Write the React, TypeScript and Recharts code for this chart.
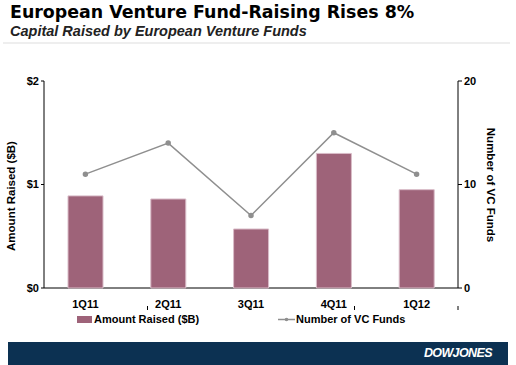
import React from "react";
import {
  ComposedChart,
  Bar,
  Line,
  XAxis,
  YAxis,
} from "recharts";

const quarters = ["1Q11", "2Q11", "3Q11", "4Q11", "1Q12"];
const amountRaised = [0.89, 0.86, 0.57, 1.3, 0.95];
const vcFunds = [11, 14, 7, 15, 11];
const amountTicks = [0, 1, 2];
const fundTicks = [0, 10, 20];
const boundaryTicks = [1, 2, 3, 4];

const data = quarters.map((q, i) => ({
  quarter: q,
  amount: amountRaised[i],
  funds: vcFunds[i],
}));

const FONT = "'Liberation Sans', Arial, sans-serif";
const TITLE_FONT = "'DejaVu Sans', Verdana, sans-serif";
const BAR = "#9e6379";
const LINE = "#8f8f8f";

const NoLabel = () => <g />;

export default function App() {
  return (
    <div
      style={{
        position: "absolute",
        left: 0,
        top: 0,
        width: 516,
        height: 365,
        background: "#fff",
        fontFamily: FONT,
        overflow: "hidden",
      }}
    >
      <div
        style={{
          position: "absolute",
          left: 10,
          top: 2,
          fontSize: 17.4,
          fontFamily: TITLE_FONT,
          fontWeight: "bold",
          color: "#000",
          whiteSpace: "nowrap",
        }}
      >
        European Venture Fund-Raising Rises 8%
      </div>
      <div
        style={{
          position: "absolute",
          left: 10,
          top: 23,
          fontSize: 14.5,
          fontWeight: "bold",
          fontStyle: "italic",
          color: "#222",
          whiteSpace: "nowrap",
        }}
      >
        Capital Raised by European Venture Funds
      </div>
      <div
        style={{
          position: "absolute",
          left: 3,
          top: 42,
          width: 507,
          height: 2,
          background: "#eeeeee",
        }}
      />

      <div style={{ position: "absolute", left: 0, top: 0 }}>
        <ComposedChart
          width={516}
          height={365}
          data={data}
          margin={{ top: 81, right: 28, bottom: 57, left: 8 }}
        >
          <XAxis
            xAxisId="grid"
            type="number"
            domain={[0, 5]}
            ticks={boundaryTicks}
            tick={NoLabel}
            axisLine={false}
            tickLine={{ stroke: "#000" }}
            tickSize={4}
            height={2}
          />
          <XAxis
            xAxisId="cat"
            dataKey="quarter"
            axisLine={false}
            tickLine={false}
            height={18}
            tick={{ fill: "#000", fontSize: 11, fontWeight: "bold", fontFamily: FONT, dy: 4 }}
          />
          <YAxis
            yAxisId="left"
            domain={[0, 2]}
            ticks={amountTicks}
            width={36}
            tickFormatter={(v) => `$${v}`}
            tick={{ fill: "#000", fontSize: 11, fontWeight: "bold", fontFamily: FONT }}
            axisLine={{ stroke: "#000" }}
            tickLine={{ stroke: "#000" }}
            tickSize={3}
          />
          <YAxis
            yAxisId="right"
            orientation="right"
            domain={[0, 20]}
            ticks={fundTicks}
            width={30}
            tick={{ fill: "#000", fontSize: 11, fontWeight: "bold", fontFamily: FONT }}
            axisLine={{ stroke: "#000" }}
            tickLine={{ stroke: "#000" }}
            tickSize={4}
          />
          <Bar
            xAxisId="cat"
            yAxisId="left"
            dataKey="amount"
            fill={BAR}
            stroke="#d9bcc8"
            strokeWidth={1}
            barSize={35}
            isAnimationActive={false}
          />
          <Line
            xAxisId="cat"
            yAxisId="right"
            dataKey="funds"
            stroke={LINE}
            strokeWidth={1.5}
            dot={{ r: 2, fill: LINE, stroke: LINE }}
            activeDot={false}
            isAnimationActive={false}
          />
          <line x1={44} y1={288} x2={458} y2={288} stroke="#000" strokeWidth={1} />
        </ComposedChart>
      </div>

      <div
        style={{
          position: "absolute",
          left: 11,
          top: 196,
          transform: "translate(-50%, -50%) rotate(-90deg)",
          fontSize: 11.5,
          fontWeight: "bold",
          whiteSpace: "nowrap",
        }}
      >
        Amount Raised ($B)
      </div>
      <div
        style={{
          position: "absolute",
          left: 491,
          top: 185,
          transform: "translate(-50%, -50%) rotate(90deg)",
          fontSize: 11.5,
          fontWeight: "bold",
          whiteSpace: "nowrap",
        }}
      >
        Number of VC Funds
      </div>

      <div
        style={{
          position: "absolute",
          left: 77,
          top: 313,
          display: "flex",
          alignItems: "center",
          fontSize: 11,
          fontWeight: "bold",
          whiteSpace: "nowrap",
        }}
      >
        <span style={{ display: "inline-block", width: 15, height: 7, background: BAR, marginRight: 2 }} />
        Amount Raised ($B)
      </div>
      <div
        style={{
          position: "absolute",
          left: 278,
          top: 313,
          display: "flex",
          alignItems: "center",
          fontSize: 11,
          fontWeight: "bold",
          whiteSpace: "nowrap",
        }}
      >
        <svg width={17} height={7} style={{ marginRight: 1 }}>
          <line x1={0} y1={3.5} x2={17} y2={3.5} stroke={LINE} strokeWidth={1.5} />
          <circle cx={8.5} cy={3.5} r={1.8} fill={LINE} />
        </svg>
        Number of VC Funds
      </div>

      <div
        style={{
          position: "absolute",
          left: 8,
          top: 342,
          width: 500,
          height: 23,
          background: "#0c3152",
        }}
      >
        <span
          style={{
            position: "absolute",
            right: 16,
            top: 4,
            color: "#fff",
            fontSize: 12.5,
            fontWeight: 900,
            fontStyle: "italic",
            letterSpacing: -0.6,
          }}
        >
          DOWJONES
        </span>
      </div>
    </div>
  );
}
